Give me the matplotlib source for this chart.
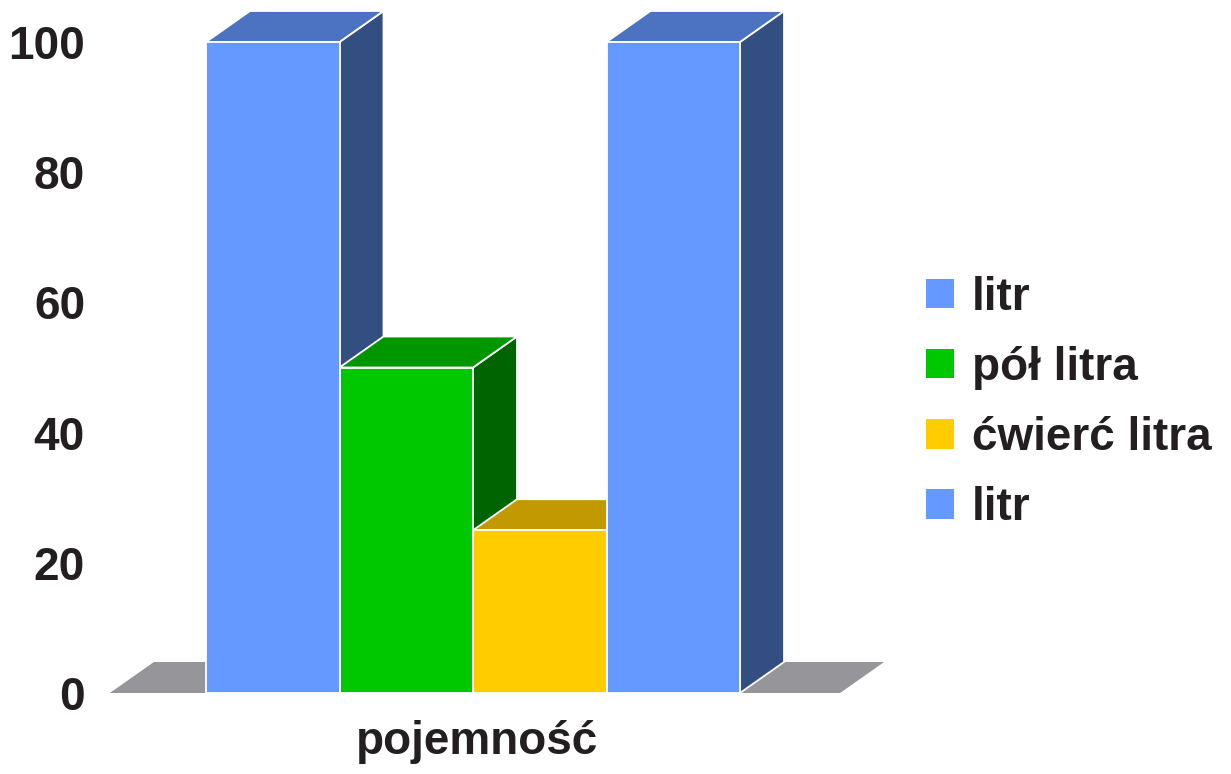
import matplotlib
matplotlib.use("Agg")
import matplotlib.pyplot as plt
from matplotlib.patches import Polygon, Patch
import matplotlib.transforms as mtransforms
import numpy as np

plt.rcParams['font.family'] = ['Liberation Sans', 'DejaVu Sans']
plt.rcParams['font.weight'] = 'bold'

# ---- data ----
series_labels = ["litr", "pół litra", "ćwierć litra", "litr"]
values = [100, 50, 25, 100]
category = "pojemność"
yticks = [0, 20, 40, 60, 80, 100]

front_colors = ["#6699FF", "#00C800", "#FFCC00", "#6699FF"]
top_colors = ["#4C73C2", "#009600", "#C29A00", "#4C73C2"]
side_colors = ["#334F82", "#006400", "#8A6E00", "#334F82"]
floor_color = "#96969A"
text_color = "#231F20"

W, H = 1231, 774
fig = plt.figure(figsize=(W / 100, H / 100), dpi=100)

# axes placement (pixels)
ax_left, ax_right = 110, 900
ax_bottom, ax_top = 693, 42
ax = fig.add_axes([ax_left / W, (H - ax_bottom) / H,
                   (ax_right - ax_left) / W, (ax_bottom - ax_top) / H])
bar_px = 133.5
x0_px = 206
ax.set_xlim((ax_left - x0_px) / bar_px, (ax_right - x0_px) / bar_px)
ax.set_ylim(0, 100)
for s in ax.spines.values():
    s.set_visible(False)
ax.set_xticks([])
ax.set_yticks(yticks)
ax.set_yticklabels([str(t) for t in yticks], fontsize=33, fontweight='bold',
                   color=text_color)
ax.tick_params(axis='y', length=0, pad=18)
ax.patch.set_alpha(0)

# depth offset in data units from pixel offset
fig.canvas.draw()
p0 = ax.transData.transform((0, 0))
inv = ax.transData.inverted()
base = inv.transform(p0)
off = inv.transform(p0 + np.array([44, 31]))
ddx, ddy = off[0] - base[0], off[1] - base[1]

# floor
n = len(values)
fl, fr = -0.72, n + 0.75
ax.add_patch(Polygon([(fl, 0), (fr, 0), (fr + ddx, ddy), (fl + ddx, ddy)],
                     closed=True, facecolor=floor_color, edgecolor='none',
                     zorder=1, clip_on=False))

# bars, left to right
lw = 1.3
for i, v in enumerate(values):
    x1, x2 = i, i + 1
    z = 2 + i
    side = Polygon([(x2, 0), (x2 + ddx, ddy), (x2 + ddx, v + ddy), (x2, v)],
                   closed=True, facecolor=side_colors[i], edgecolor='white',
                   linewidth=lw, zorder=z, clip_on=False)
    top = Polygon([(x1, v), (x2, v), (x2 + ddx, v + ddy), (x1 + ddx, v + ddy)],
                  closed=True, facecolor=top_colors[i], edgecolor='white',
                  linewidth=lw, zorder=z, clip_on=False)
    front = Polygon([(x1, 0), (x2, 0), (x2, v), (x1, v)],
                    closed=True, facecolor=front_colors[i], edgecolor='white',
                    linewidth=lw, zorder=z, clip_on=False)
    for p in (side, top, front):
        ax.add_patch(p)

# category label
ax.text(n / 2 + 0.03, (H - 754) / H, category,
        transform=mtransforms.blended_transform_factory(ax.transData, fig.transFigure),
        ha='center', va='baseline', fontsize=33, fontweight='bold', color=text_color)

# legend
handles = [Patch(facecolor=c, edgecolor='none') for c in front_colors]
leg = fig.legend(handles, series_labels, loc='center left',
                 bbox_to_anchor=(926 / W, 1 - 403 / H), frameon=False,
                 fontsize=33, handlelength=0.61, handleheight=0.61,
                 handletextpad=0.39, labelspacing=0.57, borderpad=0,
                 borderaxespad=0)
for t in leg.get_texts():
    t.set_color(text_color)
    t.set_fontweight('bold')

fig.savefig("out.png", dpi=100)
